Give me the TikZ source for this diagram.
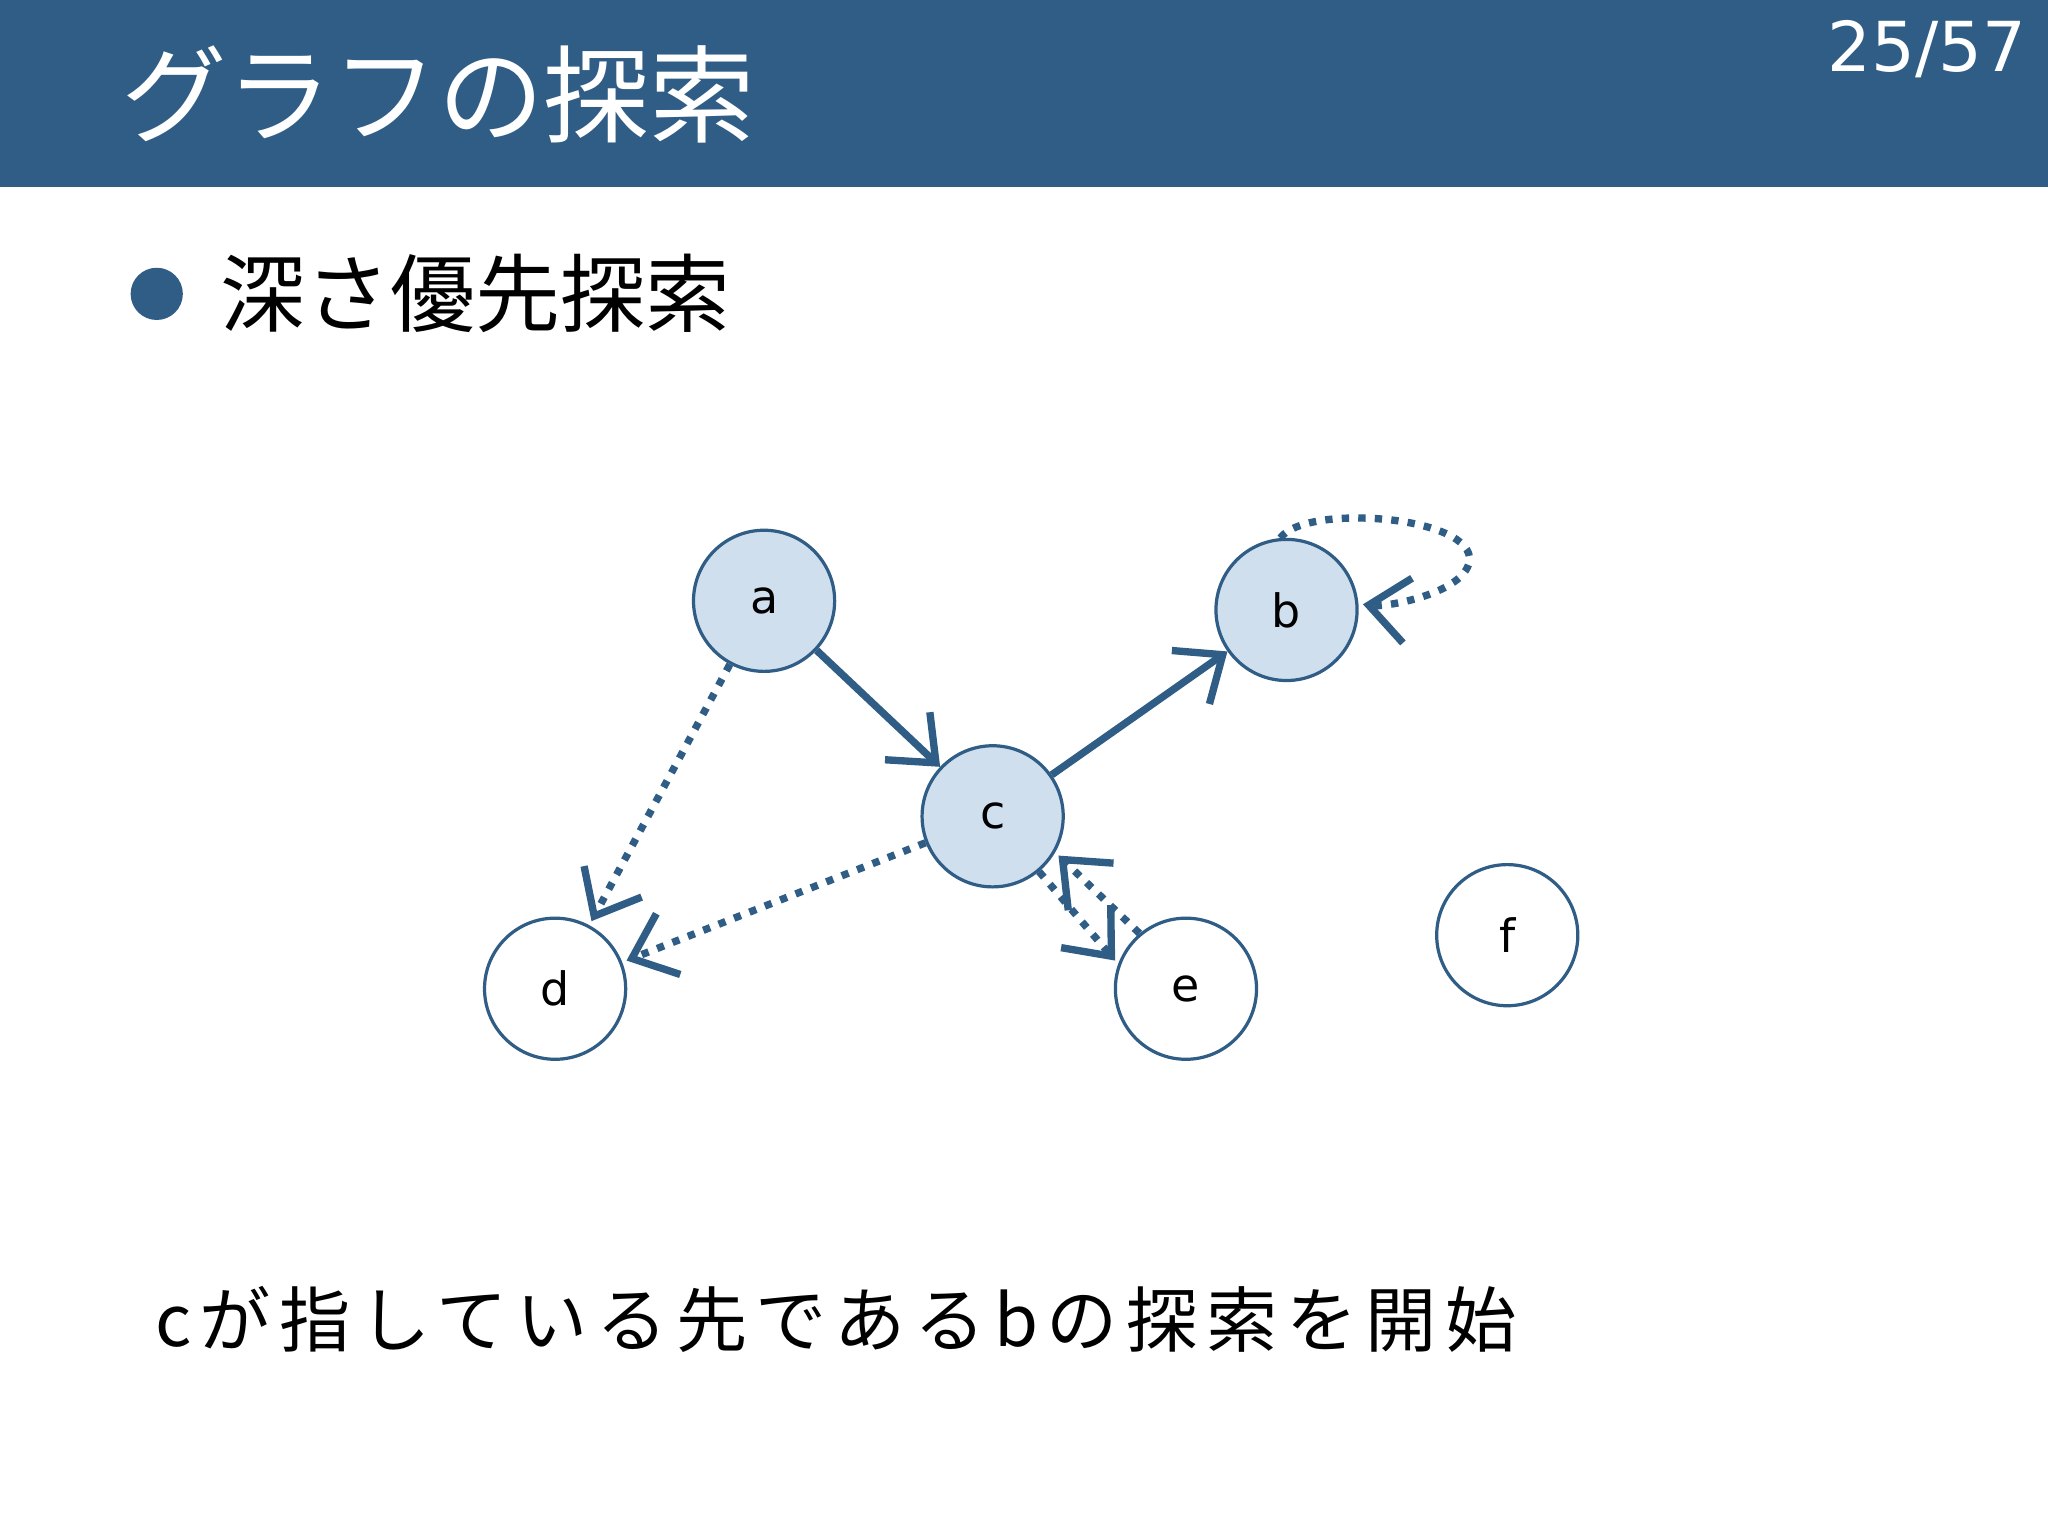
\documentclass[tikz,border=0pt]{standalone}
\usepackage{fontspec}
\setmainfont{Noto Sans CJK JP}
\newfontfamily\lat{DejaVu Sans}
\usetikzlibrary{arrows.meta}
\definecolor{hdr}{HTML}{2F5D85}
\definecolor{nfill}{HTML}{D0DFEE}
\tikzset{
 vtx/.style={circle,draw=hdr,line width=0.7pt,minimum size=1.08cm,inner sep=0pt,font=\lat\fontsize{10}{12}\selectfont},
 vis/.style={vtx,fill=nfill},
 sol/.style={draw=hdr,line width=1.6pt,-{Straight Barb[length=3mm,width=5mm]}},
 dot/.style={draw=hdr,line width=1.6pt,dotted,-{Straight Barb[length=3mm,width=5mm,line cap=butt]},shorten >=1pt}
}
\begin{document}
\begin{tikzpicture}[x=0.01cm,y=-0.01cm]
\useasboundingbox (0,0) rectangle (1568,1176);
\fill[white] (0,0) rectangle (1568,1176);
\fill[hdr] (0,0) rectangle (1568,143);
\node[anchor=west,text=white,font=\fontsize{23}{26}\selectfont,inner sep=0pt] (title) at (92,72) {グラフの探索};
\node[anchor=east,text=white,font=\lat\fontsize{15}{18}\selectfont,inner sep=0pt] (pg) at (1552,38) {25/57};
\fill[hdr] (120,225) circle (20);
\node[anchor=west,font=\fontsize{18.5}{22}\selectfont,inner sep=0pt] (sub) at (168,225) {深さ優先探索};
\node[vis] (a) at (585,460) {a};
\node[vis] (b) at (985,467) {b};
\node[vis] (c) at (760,625) {c};
\node[vtx] (d) at (425,757) {d};
\node[vtx] (e) at (908,757) {e};
\node[vtx] (f) at (1154,716) {f};
\draw[sol] (a) -- (c);
\draw[sol] (c) -- (b);
\draw[dot] (a) -- (d);
\draw[dot] (c) -- (d);
\draw[dot] (c.-50) -- (e.160);
\draw[dot] (e.130) -- (c.-30);
\draw[dot] (b.95) .. controls (1000,385) and (1130,395) .. (1125,430) .. controls (1120,455) and (1060,465) .. (b.5);
\node[anchor=west,font=\fontsize{15.5}{18}\selectfont,inner sep=0pt] (msg) at (118,1010) {\addfontfeature{LetterSpace=12}cが指している先であるbの探索を開始};
\end{tikzpicture}
\end{document}
